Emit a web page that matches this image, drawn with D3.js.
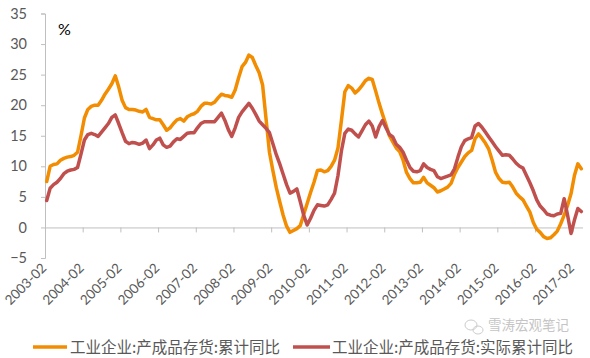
<!DOCTYPE html>
<html><head><meta charset="utf-8">
<script src="https://cdn.jsdelivr.net/npm/d3@7"></script>
<style>
html,body{margin:0;padding:0;background:#fff;}
svg{display:block;}
</style>
</head><body>
<svg id="chart" width="590" height="358"></svg>
<script>
// ---- data ----
const years = [2003,2004,2005,2006,2007,2008,2009,2010,2011,2012,2013,2014,2015,2016,2017];
const months = ["02","03","04","05","06","07","08","09","10","11","12"];
const lastMonth2017 = "04";
const tickLabels = ["2003-02","2004-02","2005-02","2006-02","2007-02","2008-02","2009-02","2010-02","2011-02","2012-02","2013-02","2014-02","2015-02","2016-02","2017-02"];
const yTicks = [-5,0,5,10,15,20,25,30,35];
const seriesNames = ["工业企业:产成品存货:累计同比","工业企业:产成品存货:实际累计同比"];

const cumYoY = [
  7.5,10.0,10.3,10.4,11.0,11.3,11.5,11.6,11.8,12.3,15.0,
  17.9,19.3,19.8,20.0,20.0,20.8,21.8,22.6,23.5,24.8,23.0,
  20.8,19.6,19.3,19.3,19.2,19.0,18.9,19.3,18.0,17.8,17.6,
  17.6,16.8,15.9,16.3,17.0,17.6,17.8,17.4,18.1,18.4,18.6,
  19.0,19.8,20.3,20.3,20.2,20.5,21.2,21.8,21.6,21.5,21.3,
  22.5,24.5,26.3,27.0,28.2,27.8,26.5,25.3,23.3,17.8,12.3,
  9.3,6.5,4.2,2.0,0.2,-0.8,-0.5,-0.2,0.3,2.1,3.9,
  5.7,7.4,9.3,9.4,9.1,9.3,10.0,11.0,13.0,17.5,22.2,
  23.2,22.8,22.0,22.5,23.2,24.0,24.4,24.2,22.3,20.3,18.5,
  16.8,15.0,14.0,13.0,12.4,11.0,9.0,8.0,7.3,7.3,7.4,
  8.2,7.3,6.9,6.5,5.8,6.0,6.3,6.6,7.2,8.7,9.8,
  10.7,11.6,12.2,12.6,14.5,15.3,14.6,13.8,12.8,11.0,9.0,
  8.0,7.4,7.3,7.4,6.6,5.6,5.0,4.5,3.5,2.5,0.8,
  -0.3,-0.8,-1.5,-1.8,-1.7,-1.2,-0.6,0.6,2.0,3.6,5.5,
  8.5,10.4,9.6
];
const realCumYoY = [
  4.4,6.4,7.0,7.4,8.0,8.8,9.2,9.4,9.5,9.8,12.0,
  14.3,15.2,15.4,15.2,14.9,15.6,16.3,17.0,18.0,18.4,17.0,
  15.5,14.1,13.7,13.9,13.8,13.6,13.8,14.3,12.9,13.5,14.3,
  14.6,13.5,13.1,13.3,14.0,14.5,14.4,14.9,15.4,15.5,15.5,
  16.3,17.0,17.3,17.3,17.3,17.3,18.0,18.7,17.5,16.0,14.9,
  16.3,18.0,18.9,19.6,20.3,19.5,18.5,17.4,16.8,16.2,15.5,
  13.7,11.9,10.4,8.7,7.0,5.6,5.9,6.3,4.2,2.0,0.4,
  1.5,2.8,3.7,3.6,3.5,3.7,4.6,5.6,8.5,12.5,15.4,
  16.1,15.9,15.3,14.8,15.8,16.8,17.4,16.6,14.8,16.5,17.5,
  16.3,15.2,14.8,13.6,13.1,12.3,11.0,9.8,9.2,9.1,9.3,
  10.4,9.8,9.5,9.3,8.3,8.0,8.2,8.4,8.6,9.6,11.5,
  13.2,14.2,14.5,14.7,16.6,17.0,16.4,15.6,14.8,14.0,13.2,
  12.5,11.8,11.9,11.8,11.2,10.5,10.0,9.7,8.5,7.3,6.0,
  4.5,3.5,2.9,2.2,2.0,1.9,2.2,2.3,4.7,2.0,-1.0,
  1.2,3.1,2.6
];
const colors = ["#F28C00","#C0504D"];

// categories
const categories = [];
years.forEach(yr => months.forEach(m => {
  if (yr < 2017 || m <= lastMonth2017) categories.push(yr + "-" + m);
}));

// ---- layout ----
const svg = d3.select("#chart");
const plotL = 45, plotR = 583, plotT = 13.5, plotB = 258;

const x = d3.scaleBand().domain(categories).range([plotL, plotR]).paddingInner(0).paddingOuter(0);
const xEdge = d3.scaleLinear().domain([0, categories.length]).range([plotL, plotR]);
const y = d3.scaleLinear().domain([-5, 35]).range([plotB, plotT]);
const cx = c => x(c) + x.bandwidth() / 2;

const axisColor = "#BFBFBF";
const textColor = "#595959";
const numFont = "Lato, 'Liberation Sans', sans-serif";

// y axis
const yAxis = svg.append("g").attr("transform", `translate(${plotL},0)`)
  .call(d3.axisLeft(y).tickValues(yTicks).tickSize(4).tickPadding(14).tickFormat(d3.format("d")));
yAxis.select(".domain").attr("stroke", axisColor);
yAxis.selectAll(".tick line").attr("stroke", axisColor);
yAxis.selectAll(".tick text").attr("fill", textColor).style("font-family", numFont).style("font-size", "14.5px");

// x axis at zero
const tickIdx = tickLabels.map(t => categories.indexOf(t));
const xAxis = svg.append("g").attr("transform", `translate(0,${y(0)})`)
  .call(d3.axisBottom(xEdge).tickValues(tickIdx).tickSize(5).tickFormat(""));
xAxis.select(".domain").attr("stroke", axisColor).attr("d", `M${plotL},0.5H${plotR}`);
xAxis.selectAll(".tick line").attr("stroke", axisColor);

// x labels
svg.append("g").selectAll("text").data(tickLabels).join("text")
  .attr("transform", d => `translate(${cx(d) + 0.5},${269}) rotate(-45)`)
  .attr("text-anchor", "end")
  .attr("fill", textColor)
  .style("font-family", numFont).style("font-size", "13.5px")
  .text(d => d);

// % label
svg.append("text").attr("x", 58).attr("y", 35).attr("fill", "#000")
  .style("font-family", numFont).style("font-size", "16px").text("%");

// lines
const line = d3.line().x((d, i) => cx(categories[i])).y(d => y(d)).curve(d3.curveLinear);
[cumYoY, realCumYoY].forEach((s, k) => {
  svg.append("path").datum(s).attr("d", line)
    .attr("fill", "none").attr("stroke", colors[k]).attr("stroke-width", 3.5)
    .attr("stroke-linejoin", "round").attr("stroke-linecap", "round");
});

// legend
const cjkFont = "'Noto Sans CJK SC', sans-serif";
const legendItems = [{x1: 33, x2: 67, tx: 70}, {x1: 293, x2: 330, tx: 332}];
legendItems.forEach((L, k) => {
  svg.append("line").attr("x1", L.x1).attr("x2", L.x2).attr("y1", 347).attr("y2", 347)
    .attr("stroke", colors[k]).attr("stroke-width", 3.5);
  svg.append("text").attr("x", L.tx).attr("y", 353).attr("fill", textColor)
    .style("font-family", cjkFont).style("font-size", "15.5px").text(seriesNames[k]);
});

// watermark
const wm = svg.append("g").attr("opacity", 0.5);
wm.append("ellipse").attr("cx", 471).attr("cy", 325).attr("rx", 6).attr("ry", 5)
  .attr("fill", "none").attr("stroke", "#9a9a9a").attr("stroke-width", 1);
wm.append("ellipse").attr("cx", 478).attr("cy", 330).attr("rx", 5).attr("ry", 4)
  .attr("fill", "none").attr("stroke", "#9a9a9a").attr("stroke-width", 1);
wm.append("text").attr("x", 488).attr("y", 330).attr("fill", "#8c8c8c")
  .style("font-family", cjkFont).style("font-size", "13.5px").text("雪涛宏观笔记");
</script>
</body></html>
